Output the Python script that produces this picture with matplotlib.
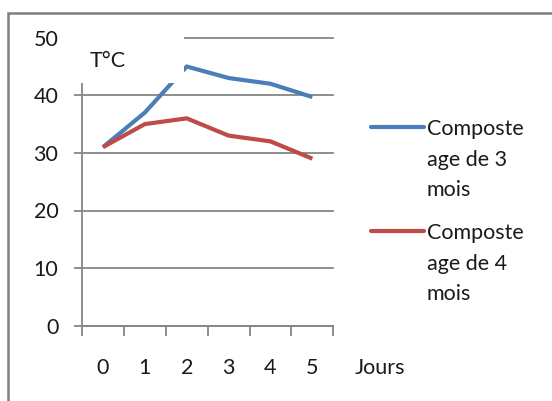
import matplotlib
matplotlib.use('Agg')
from matplotlib import pyplot as plt
from matplotlib.patches import Rectangle

plt.rcParams['font.family'] = ['Lato', 'DejaVu Sans']

# données
jours = [0, 1, 2, 3, 4, 5]
temp_3mois = [31, 37, 45, 43, 42, 39.7]
temp_4mois = [31, 35, 36, 33, 32, 29]
noms = [['Composte', 'age de 3', 'mois'], ['Composte', 'age de 4', 'mois']]
couleurs = ['#4a7ebb', '#be4b48']

W, H = 552, 401
fig = plt.figure(figsize=(W / 100, H / 100), dpi=100)

def fx(px):
    return px / W

def fy(py):
    return 1 - py / H

fs = 15.5
noir = '#1a1a1a'

# zone de tracé
ax = fig.add_axes([fx(82), fy(325.7), fx(333.3) - fx(82), fy(37.7) - fy(325.7)])
pos = list(range(len(jours)))
for serie, c in zip([temp_3mois, temp_4mois], couleurs):
    ax.plot(pos, serie, color=c, lw=3, solid_capstyle='butt', zorder=3)

ax.set_xlim(-0.5, len(jours) - 0.5)
ax.set_ylim(0, 50)
gris = '#868686'
ax.set_yticks(range(0, 51, 10))
ax.yaxis.grid(True, color=gris, lw=1.3)
for gl in ax.get_ygridlines():
    gl.set_clip_on(False)
ax.set_axisbelow(True)
ax.set_xticks([p - 0.5 for p in range(len(jours) + 1)])
ax.set_xticklabels([])
ax.set_xticks(pos, minor=True)
ax.set_xticklabels([str(j) for j in jours], minor=True)
ax.tick_params(axis='x', which='major', length=7, width=1.3, color=gris, direction='out')
ax.tick_params(axis='x', which='minor', length=0, pad=23, labelsize=fs, labelcolor=noir)
ax.tick_params(axis='y', length=6, width=1.3, color=gris, pad=11, labelsize=fs, labelcolor=noir)
for s in ['top', 'right']:
    ax.spines[s].set_visible(False)
ax.spines['left'].set_color(gris)
ax.spines['left'].set_linewidth(1.3)
ax.spines['bottom'].set_color(gris)
ax.spines['bottom'].set_linewidth(1.3)

# cadre blanc du titre de l'axe
ax.add_patch(Rectangle((fx(62), fy(83)), fx(184) - fx(62), fy(25) - fy(83),
                       transform=fig.transFigure, facecolor='white', edgecolor='none',
                       clip_on=False, zorder=10))
fig.text(fx(90), fy(61), 'T°C', fontsize=fs, color=noir, va='center', ha='left', zorder=11)
fig.text(fx(355), fy(368), 'Jours', fontsize=fs, color=noir, va='center', ha='left')

# légende
leg_y = [127, 231]
for lignes, c, y in zip(noms, couleurs, leg_y):
    fig.add_artist(plt.Line2D([fx(371), fx(424)], [fy(y), fy(y)], color=c, lw=3,
                              solid_capstyle='round'))
    for k, txt in enumerate(lignes):
        fig.text(fx(427), fy(y + 30.5 * k), txt, fontsize=fs, color=noir,
                 va='center_baseline', ha='left')

# bordure extérieure
fig.add_artist(Rectangle((fx(8), fy(420)), fx(600) - fx(8), fy(13) - fy(420),
                         transform=fig.transFigure, facecolor='none', edgecolor='#7f7f7f',
                         lw=1.8, clip_on=False))

fig.savefig('out.png', dpi=100)
